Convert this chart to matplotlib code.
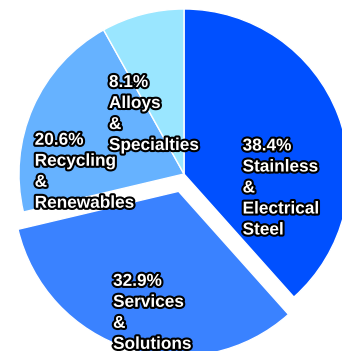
import matplotlib.pyplot as plt
import matplotlib.patheffects as pe

# segment shares, clockwise from 12 o'clock
segments = ['Stainless\n&\nElectrical\nSteel', 'Services\n&\nSolutions',
            'Recycling\n&\nRenewables', 'Alloys\n&\nSpecialties']
shares = [38.4, 32.9, 20.6, 8.1]
colors = ['#0050ff', '#3a82ff', '#66b2ff', '#9ae6ff']
explode = [0, 0.11, 0, 0]

# top-left anchor of each label block (data units, radius = 1)
label_xy = [(0.355, 0.215), (-0.43, -0.605), (-0.905, 0.25), (-0.455, 0.60)]

fig = plt.figure(figsize=(3.42, 3.51), dpi=100)
ax = fig.add_axes([0, 0, 1, 1])

ax.pie(shares, colors=colors, explode=explode, startangle=90, counterclock=False,
       radius=1, wedgeprops=dict(edgecolor='white', linewidth=1))

for name, val, (x, y) in zip(segments, shares, label_xy):
    ax.text(x, y, f'{val:.1f}%\n{name}', ha='left', va='top', color='white',
            fontsize=12.4, fontweight='bold', family='Liberation Sans', linespacing=1.5,
            path_effects=[pe.withStroke(linewidth=3, foreground='black')])

# pixel frame: centre at (184, 174), radius 165 px
ax.set_xlim(-184 / 165, (342 - 184) / 165)
ax.set_ylim(-(351 - 174) / 165, 174 / 165)
ax.set_aspect('auto')
ax.axis('off')

fig.savefig('out.png', dpi=100)
